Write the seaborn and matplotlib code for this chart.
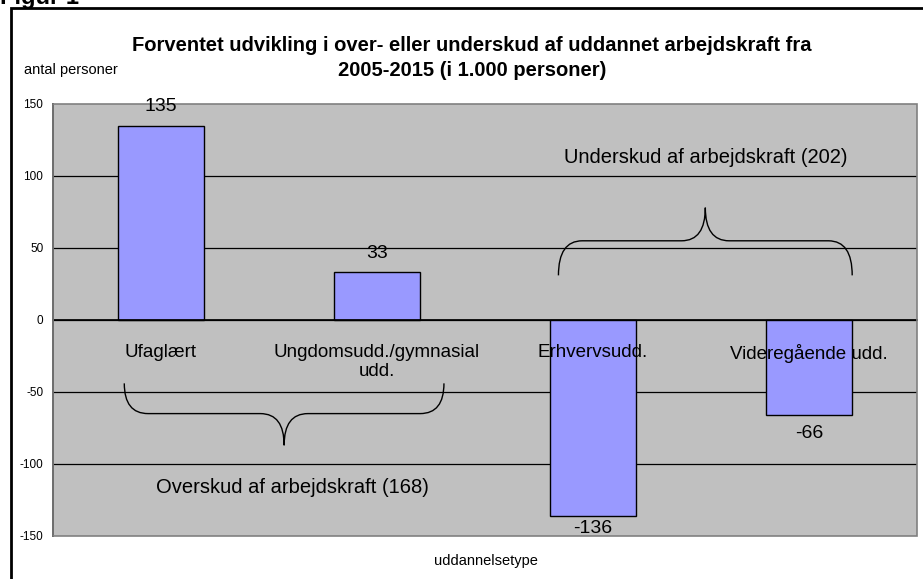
import numpy as np
import matplotlib
matplotlib.use("Agg")
import matplotlib.pyplot as plt
from matplotlib.path import Path
from matplotlib.patches import PathPatch, Rectangle
import pandas as pd
import seaborn as sns

# chart data (1.000 personer)
categories = ["Ufaglært", "Ungdomsudd./gymnasial\nudd.", "Erhvervsudd.", "Videregående udd."]
values = [135, 33, -136, -66]
tick_values = [-150, -100, -50, 0, 50, 100, 150]

title = ("Forventet udvikling i over- eller underskud af uddannet arbejdskraft fra\n"
         "2005-2015 (i 1.000 personer)")
surplus_label = "Overskud af arbejdskraft"
deficit_label = "Underskud af arbejdskraft"

BAR_COLOR = "#9999FF"
PLOT_BG = "#C0C0C0"


def draw_brace(ax, x0, x1, y_end, y_mid, y_tip, rx):
    """Curly brace in data coords, ends at y_end, tip at y_tip."""
    xc = (x0 + x1) / 2
    verts = [(x0, y_end), (x0, y_mid), (x0 + rx, y_mid),
             (xc - rx, y_mid), (xc, y_mid), (xc, y_tip),
             (xc, y_mid), (xc + rx, y_mid),
             (x1 - rx, y_mid), (x1, y_mid), (x1, y_end)]
    codes = [Path.MOVETO, Path.CURVE3, Path.CURVE3,
             Path.LINETO, Path.CURVE3, Path.CURVE3,
             Path.CURVE3, Path.CURVE3,
             Path.LINETO, Path.CURVE3, Path.CURVE3]
    ax.add_patch(PathPatch(Path(verts, codes), fill=False, lw=1.0,
                           edgecolor="black", zorder=4))


sns.set_theme(style="white")
plt.rcParams["font.family"] = ["Liberation Sans", "DejaVu Sans"]
plt.rcParams["text.color"] = "black"
plt.rcParams["xtick.color"] = "black"
plt.rcParams["ytick.color"] = "black"

df = pd.DataFrame({"type": categories, "antal": values})

fig = plt.figure(figsize=(9.23, 5.79), dpi=100)
W, H = 923, 579
ax = fig.add_axes([53 / W, 1 - 536 / H, 864 / W, 432 / H])
ax.set_facecolor(PLOT_BG)

sns.barplot(data=df, x="type", y="antal", color=BAR_COLOR, saturation=1,
            edgecolor="black", linewidth=1.0, width=0.4, ax=ax, zorder=3)

ax.set_xlim(-0.5, len(categories) - 0.5)
ax.set_ylim(tick_values[0], tick_values[-1])
ax.set_yticks(tick_values)
ax.set_yticklabels([str(v) for v in tick_values], fontsize=8.5)
for v in tick_values[1:-1]:
    ax.axhline(v, color="black", lw=0.9, zorder=1)

# x-axis sits on the zero line, ticks between categories
ax.spines["bottom"].set_position(("data", 0))
ax.spines["bottom"].set_color("black")
ax.spines["bottom"].set_zorder(5)
ax.spines["left"].set_color("black")
for s in ["top", "right"]:
    ax.spines[s].set_visible(False)
ax.set_xticks(np.arange(len(categories) - 1) + 0.5)
ax.set_xticklabels([])
ax.tick_params(axis="x", direction="out", length=4, width=0.8, color="black")
ax.tick_params(axis="y", direction="out", length=4, width=0.8, color="black", pad=3)
ax.set_xlabel("")
ax.set_ylabel("")
ax.add_patch(Rectangle((0, 0), 1, 1, transform=ax.transAxes, fill=False,
                       edgecolor="#808080", lw=1.2, zorder=6, clip_on=False))

# category labels next to the zero line
for i, c in enumerate(categories):
    ax.text(i, -17, c, ha="center", va="top", fontsize=13.5,
            linespacing=1.08, zorder=7)

# value labels outside bar ends, kept inside the plot area
for i, v in enumerate(values):
    y = v + np.sign(v) * 13
    y = float(np.clip(y, tick_values[0] + 5.5, tick_values[-1] - 1.5))
    ax.text(i, y, str(v), ha="center", va="center", fontsize=14, zorder=7)

# group braces and totals
surplus = sum(v for v in values if v > 0)
deficit = -sum(v for v in values if v < 0)
draw_brace(ax, -0.17, 1.31, -44, -65, -87, 0.11)
draw_brace(ax, 1.84, 3.2, 31, 55, 78, 0.11)
ax.text(0.607, -116, f"{surplus_label} ({surplus})", ha="center", va="center",
        fontsize=14.5, zorder=7)
ax.text(2.52, 113, f"{deficit_label} ({deficit})", ha="center", va="center",
        fontsize=14.5, zorder=7)

# titles and axis captions
fig.text(472 / W, 1 - 58 / H, title, ha="center", va="center", fontsize=14.5,
         fontweight="bold", linespacing=1.35)
fig.text(24 / W, 1 - 70 / H, "antal personer", ha="left", va="center", fontsize=10.5)
fig.text(486 / W, 1 - 561 / H, "uddannelsetype", ha="center", va="center", fontsize=10.5)
fig.text(0.0, 1 - 4 / H, "Figur 1", ha="left", va="baseline", fontsize=17,
         fontweight="bold")

# chart frame
fig.add_artist(Rectangle((11 / W, -0.1), 1.2, 1.1 - 8 / H, transform=fig.transFigure,
                         fill=False, edgecolor="black", lw=2))

fig.savefig("out.png", dpi=100)
